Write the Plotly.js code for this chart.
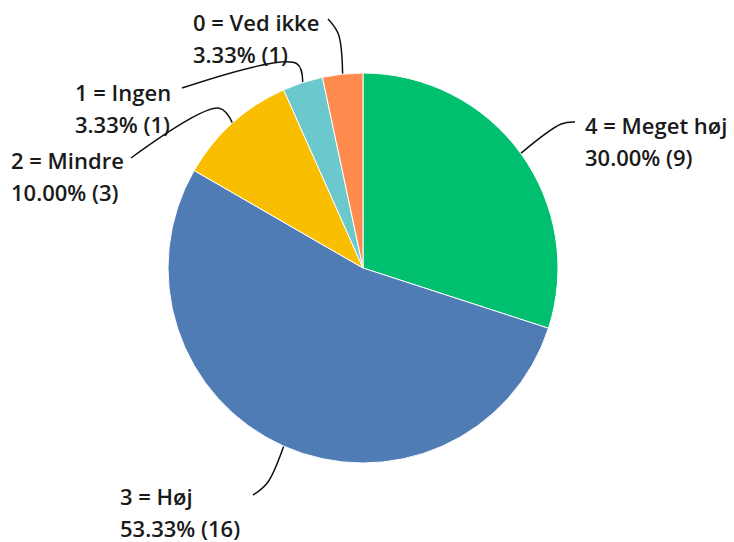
<!DOCTYPE html>
<html><head><meta charset="utf-8">
<script src="https://cdn.plot.ly/plotly-3.0.1.min.js"></script>
<style>html,body{margin:0;padding:0;background:#fff}#chart{width:734px;height:542px}</style>
</head><body><div id="chart"></div>
<script>
const categories = ["4 = Meget høj", "3 = Høj", "2 = Mindre", "1 = Ingen", "0 = Ved ikke"];
const counts = [9, 16, 3, 1, 1];
const colors = ["#00BF6F", "#507CB6", "#F9BE00", "#6BC8CD", "#FF8B4F"];

// label layout (pixel anchor of first text line: left x, middle y), elbow length, line end
const labelPos = [
  {x: 584, y: 125, elbow: 50, end: [575, 122]},
  {x: 119, y: 496, elbow: 40, end: [253, 495]},
  {x: 10,  y: 160, elbow: 20, end: [131, 158]},
  {x: 74,  y: 92,  elbow: 20, end: [182, 88]},
  {x: 192, y: 22,  elbow: 40, end: [328, 19]}
];

const W = 734, H = 542;
const cx = 363, cy = 268, R = 195;
const total = counts.reduce((a, b) => a + b, 0);
const font = {family: "'Open Sans', sans-serif", size: 22, color: "#1a1a1a", weight: 600};

const traces = [{
  type: "pie",
  labels: categories,
  values: counts,
  sort: false,
  direction: "clockwise",
  rotation: 0,
  textinfo: "none",
  hoverinfo: "label+value+percent",
  marker: {colors: colors, line: {color: "#ffffff", width: 1}},
  domain: {x: [(cx - R) / W, (cx + R) / W], y: [1 - (cy + R) / H, 1 - (cy - R) / H]},
  showlegend: false
}];

const annotations = [];
let cum = 0;
counts.forEach((v, i) => {
  const mid = (cum + v / 2) / total * 2 * Math.PI;
  cum += v;
  const dx = Math.sin(mid), dy = -Math.cos(mid);
  const p0 = [cx + R * dx, cy + R * dy];
  const lp = labelPos[i];
  const p1 = [p0[0] + lp.elbow * dx, p0[1] + lp.elbow * dy];
  traces.push({
    type: "scatter", mode: "lines",
    x: [p0[0], p1[0], lp.end[0]], y: [p0[1], p1[1], lp.end[1]],
    line: {color: "#111", width: 1.5, shape: "spline", smoothing: 1},
    hoverinfo: "skip", showlegend: false
  });
  const pct = (v / total * 100).toFixed(2) + "% (" + v + ")";
  annotations.push({xref: "paper", yref: "paper", x: lp.x / W, y: 1 - lp.y / H,
    xanchor: "left", yanchor: "middle", text: categories[i], showarrow: false, font: font, borderpad: 0});
  annotations.push({xref: "paper", yref: "paper", x: lp.x / W, y: 1 - (lp.y + 32) / H,
    xanchor: "left", yanchor: "middle", text: pct, showarrow: false, font: font, borderpad: 0});
});

const layout = {
  width: W, height: H,
  margin: {l: 0, r: 0, t: 0, b: 0},
  paper_bgcolor: "#fff", plot_bgcolor: "rgba(0,0,0,0)",
  xaxis: {range: [0, W], visible: false, fixedrange: true, domain: [0, 1]},
  yaxis: {range: [H, 0], visible: false, fixedrange: true, domain: [0, 1]},
  annotations: annotations,
  showlegend: false
};
Plotly.newPlot("chart", traces, layout, {displayModeBar: false, staticPlot: true});
</script></body></html>
